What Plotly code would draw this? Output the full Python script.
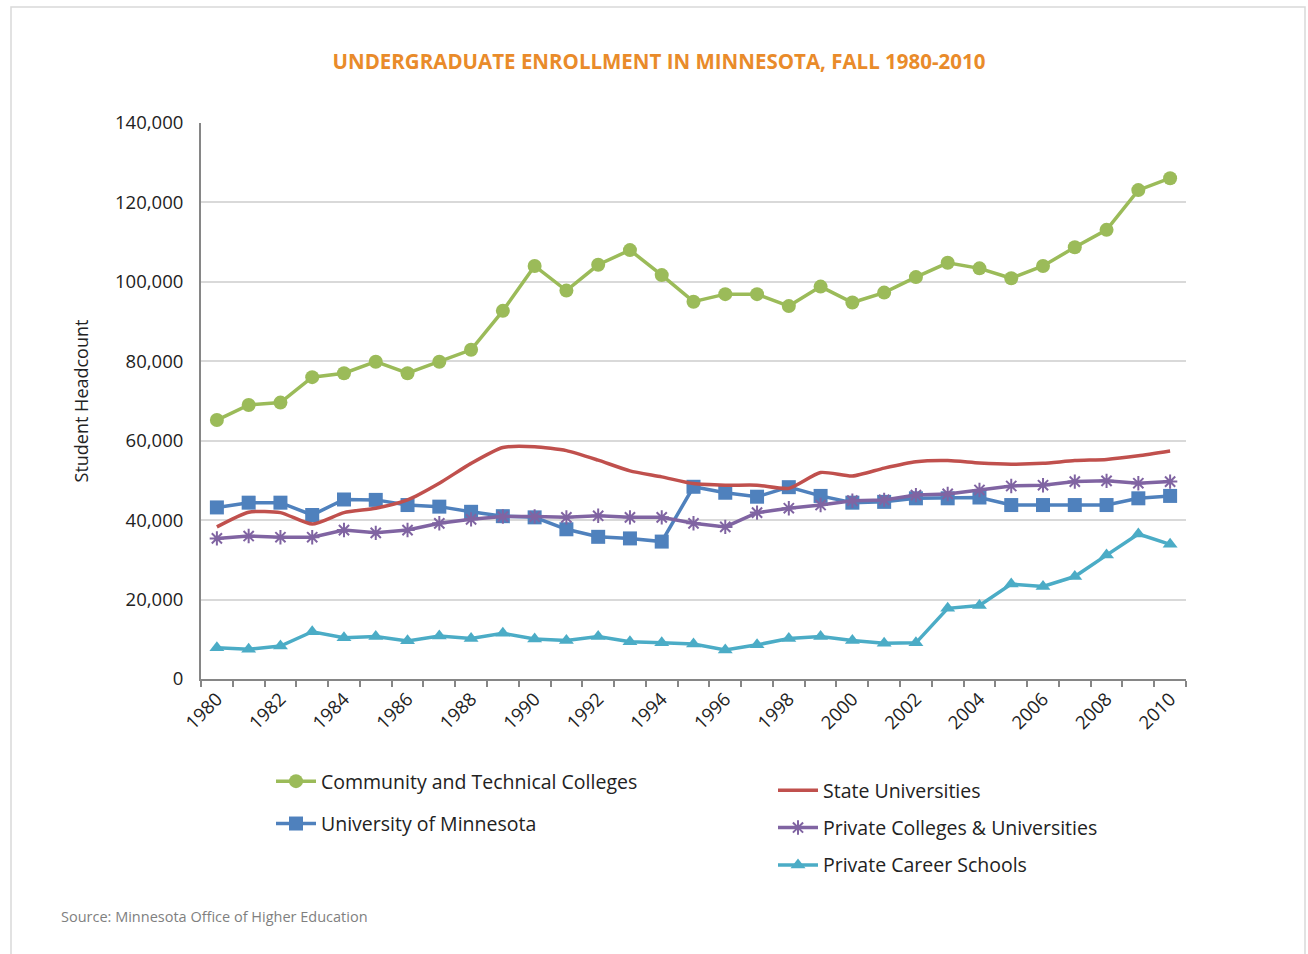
import plotly.graph_objects as go

years = list(range(1980, 2011))

community_technical = [65200, 69000, 69600, 76000, 77000, 79900, 77000, 79900, 82900, 92700,
                       104000, 97800, 104300, 108000, 101700, 95000, 96900, 96900, 93900, 98800,
                       94800, 97300, 101200, 104800, 103400, 100900, 104000, 108700, 113100, 123100,
                       126100]
state_universities = [38300, 42000, 41900, 39000, 41900, 43000, 45100, 49300, 54300, 58300,
                      58500, 57500, 55100, 52400, 50900, 49200, 48800, 48800, 48000, 52000,
                      51100, 53100, 54700, 55000, 54400, 54100, 54300, 55000, 55300, 56200,
                      57400]
univ_minnesota = [43200, 44400, 44400, 41300, 45200, 45100, 43800, 43400, 42100, 41000,
                  40700, 37700, 35800, 35400, 34600, 48400, 46900, 45900, 48300, 46100,
                  44400, 44600, 45500, 45500, 45700, 43800, 43800, 43800, 43800, 45500,
                  46100]
private_colleges = [35400, 36000, 35700, 35700, 37500, 36800, 37500, 39200, 40200, 40900,
                    40900, 40700, 41100, 40700, 40700, 39200, 38300, 41900, 43000, 43800,
                    44900, 45100, 46300, 46600, 47600, 48600, 48800, 49700, 49900, 49300,
                    49700]
private_career = [7900, 7500, 8300, 11900, 10400, 10700, 9600, 10800, 10200, 11500,
                  10100, 9700, 10700, 9400, 9100, 8800, 7300, 8600, 10200, 10700,
                  9700, 9000, 9100, 17800, 18500, 23900, 23300, 25800, 31200, 36500,
                  33900]

tick_years = list(range(1980, 2011, 2))

GREEN = "#9BBB59"
RED = "#C0504D"
BLUE = "#4F81BD"
PURPLE = "#8064A2"
CYAN = "#4BACC6"
FONT = "Open Sans"

fig = go.Figure()

fig.add_trace(go.Scatter(
    x=years, y=community_technical, name="Community and Technical Colleges",
    mode="lines+markers", line=dict(color=GREEN, width=3.5),
    marker=dict(symbol="circle", size=14, color=GREEN),
    legend="legend", legendgroup="a"))
fig.add_trace(go.Scatter(
    x=years, y=univ_minnesota, name="University of Minnesota",
    mode="lines+markers", line=dict(color=BLUE, width=3.5),
    marker=dict(symbol="square", size=14, color=BLUE),
    legend="legend", legendgroup="b"))
fig.add_trace(go.Scatter(
    x=years, y=state_universities, name="State Universities",
    mode="lines", line=dict(color=RED, width=3.5, shape="spline", smoothing=0.6),
    legend="legend2", legendgroup="c"))
fig.add_trace(go.Scatter(
    x=years, y=private_colleges, name="Private Colleges & Universities",
    mode="lines+markers", line=dict(color=PURPLE, width=3.5),
    marker=dict(symbol="asterisk-open", size=12, line=dict(color=PURPLE, width=2)),
    legend="legend2", legendgroup="d"))
fig.add_trace(go.Scatter(
    x=years, y=private_career, name="Private Career Schools",
    mode="lines+markers", line=dict(color=CYAN, width=3.5),
    marker=dict(symbol="triangle-up", size=13, color=CYAN),
    legend="legend2", legendgroup="e"))

W, H = 1308, 954
L, R, T, B = 201, 122, 123, 275
pw, ph = W - L - R, H - T - B

def px_x(p):
    return (p - L) / pw

def px_y(p):
    return (H - B - p) / ph

fig.update_layout(
    width=W, height=H,
    margin=dict(l=L, r=R, t=T, b=B),
    paper_bgcolor="white", plot_bgcolor="white",
    font=dict(family=FONT, color="#222222", size=18),
    showlegend=True,
    title=dict(text="<b>UNDERGRADUATE ENROLLMENT IN MINNESOTA, FALL 1980-2010</b>",
               font=dict(family=FONT, size=20.5, color="#E98B2A"),
               x=659 / W, xref="container", xanchor="center",
               y=1 - 62 / H, yref="container", yanchor="middle"),
    xaxis=dict(
        range=[1979.5, 2010.5], tickmode="array", tickvals=tick_years,
        ticktext=[str(y) for y in tick_years], tickangle=-45,
        ticks="", showgrid=False, zeroline=False,
        showline=True, linecolor="#868686", linewidth=2,
        tickfont=dict(family=FONT, size=18.5, color="#222222"),
        minor=dict(ticks="outside", tick0=1979.5, dtick=1, ticklen=6,
                   tickcolor="#868686", tickwidth=2, showgrid=False),
    ),
    yaxis=dict(
        range=[0, 140000], dtick=20000, tickformat=",",
        showgrid=True, gridcolor="#D9D9D9", gridwidth=1.5,
        zeroline=False, showline=True, linecolor="#868686", linewidth=2,
        ticks="", ticklabelstandoff=12,
        tickfont=dict(family=FONT, size=18.5, color="#222222"),
        title=dict(text="Student Headcount", standoff=22,
                   font=dict(family=FONT, size=18, color="#222222")),
    ),
    legend=dict(
        x=px_x(271), y=px_y(762), xanchor="left", yanchor="top",
        font=dict(family=FONT, size=19.5, color="#222222"),
        bgcolor="rgba(0,0,0,0)", tracegroupgap=14, itemwidth=40,
    ),
    legend2=dict(
        x=px_x(773), y=px_y(771), xanchor="left", yanchor="top",
        font=dict(family=FONT, size=19.5, color="#222222"),
        bgcolor="rgba(0,0,0,0)", tracegroupgap=9, itemwidth=40,
    ),
)

fig.add_annotation(
    text="Source: Minnesota Office of Higher Education",
    xref="paper", yref="paper", x=px_x(59), y=px_y(916),
    xanchor="left", yanchor="middle", showarrow=False,
    font=dict(family=FONT, size=14.5, color="#7F7F7F"))

fig.add_shape(type="rect", xref="paper", yref="paper",
              x0=px_x(11), x1=px_x(1305), y0=px_y(1000), y1=px_y(7),
              line=dict(color="#D9D9D9", width=1.5), fillcolor="rgba(0,0,0,0)",
              layer="below")

fig.write_html("out.html", config={"displayModeBar": False},
               post_script="document.body.style.margin='0';")
